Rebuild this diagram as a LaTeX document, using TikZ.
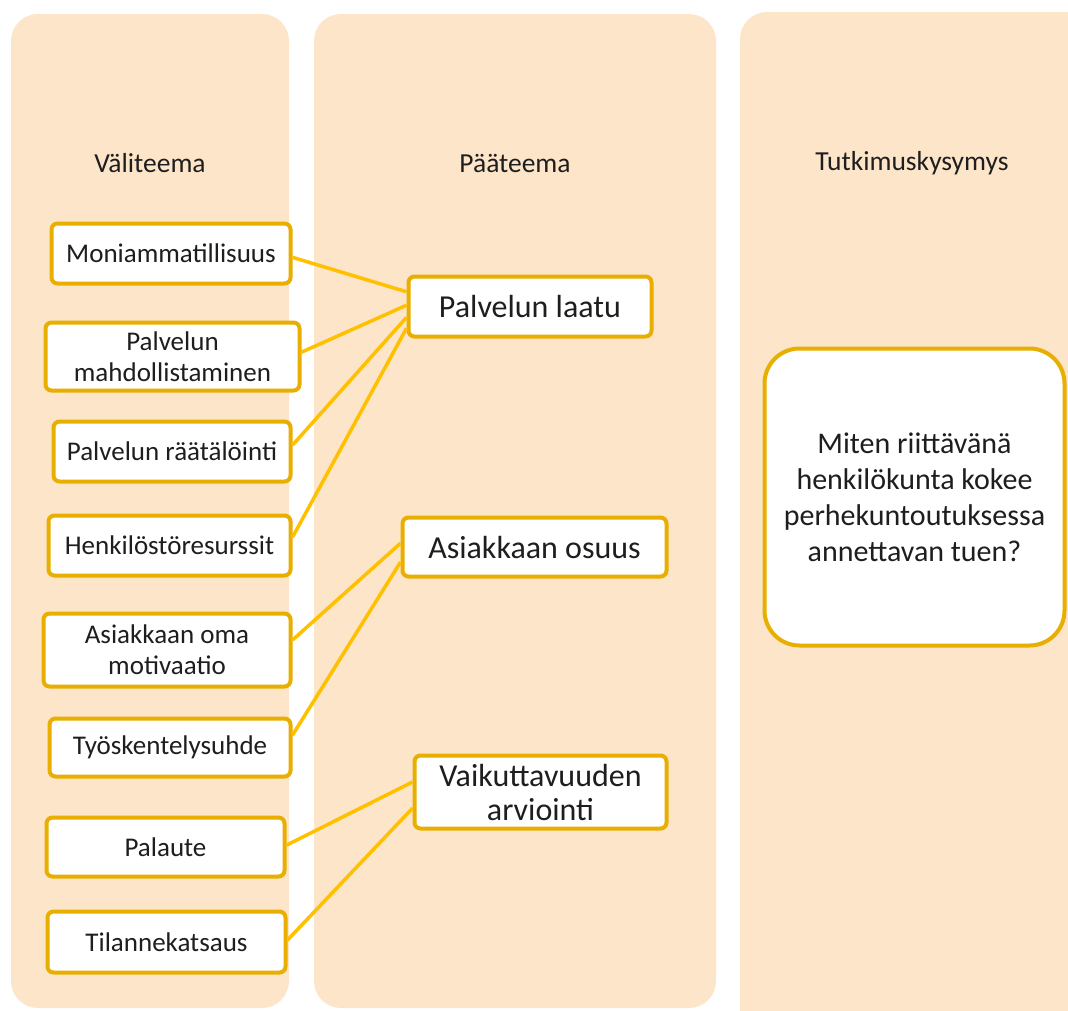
\documentclass[tikz,border=0pt]{standalone}
\usepackage{fontspec}
\setmainfont{Carlito}
\usetikzlibrary{calc}
\definecolor{panel}{RGB}{253,229,201}
\definecolor{boxline}{RGB}{232,174,0}
\definecolor{conn}{RGB}{255,192,0}
\definecolor{txt}{RGB}{30,30,30}
\tikzset{
  panelbox/.style={fill=panel, rounded corners=27pt},
  subbox/.style={draw=boxline, line width=4pt, fill=white, rounded corners=6pt, align=center,
    text=txt, inner sep=0pt, font=\fontsize{27}{31}\selectfont},
  mainbox/.style={subbox, font=\fontsize{32}{34}\selectfont},
  qbox/.style={draw=boxline, line width=4pt, fill=white, rounded corners=35pt, align=center,
    text=txt, inner sep=0pt, font=\fontsize{30}{36}\selectfont},
  coltitle/.style={text=txt, font=\fontsize{27.5}{29}\selectfont, inner sep=0pt},
  link/.style={draw=conn, line width=3.5pt}
}
\begin{document}
\begin{tikzpicture}[x=1pt, y=-1pt]
\clip (0,0) rectangle (1068,1010);
\fill[white] (0,0) rectangle (1068,1010);
% panels
\fill[panelbox] (11,14) rectangle (289,1008);
\fill[panelbox] (314,14) rectangle (716,1008);
\fill[panelbox] (740,12) rectangle (1120,1060);
% titles
\node[coltitle] (t1) at (150,163) {Väliteema};
\node[coltitle] (t2) at (515,163) {Pääteema};
\node[coltitle] (t3) at (912,163) {Tutkimuskysymys};
% left boxes
\node[subbox, minimum width=239pt, minimum height=60pt] (moni) at (171,253.5) {Moniammatillisuus};
\node[subbox, minimum width=254pt, minimum height=68pt] (mahd) at (172.5,356.5) {Palvelun\\mahdollistaminen};
\node[subbox, minimum width=237pt, minimum height=60pt] (raat) at (172,451.5) {Palvelun räätälöinti};
\node[subbox, minimum width=242pt, minimum height=60pt] (henk) at (169.5,545.5) {Henkilöstöresurssit};
\node[subbox, minimum width=247pt, minimum height=73pt] (moti) at (167,650) {Asiakkaan oma\\motivaatio};
\node[subbox, minimum width=241pt, minimum height=58pt] (tyo) at (170,747.5) {Työskentelysuhde};
\node[subbox, minimum width=238pt, minimum height=59pt] (pal) at (165.5,847) {Palaute};
\node[subbox, minimum width=238pt, minimum height=61pt] (til) at (166.5,942) {Tilannekatsaus};
% main boxes
\node[mainbox, minimum width=243pt, minimum height=60pt] (laatu) at (530,306.5) {Palvelun laatu};
\node[mainbox, minimum width=264pt, minimum height=59pt] (osuus) at (534.5,547) {Asiakkaan osuus};
\node[mainbox, minimum width=252pt, minimum height=73pt] (vaik) at (540.5,792) {Vaikuttavuuden\\arviointi};
% question
\node[qbox, minimum width=300pt, minimum height=297pt] (q) at (914.5,497) {Miten riittävänä\\henkilökunta kokee\\perhekuntoutuksessa\\annettavan tuen?};
% connectors
\draw[link] ($(moni.north east)!0.56!(moni.south east)$) -- ($(laatu.north west)!0.27!(laatu.south west)$);
\draw[link] ($(mahd.north east)!0.44!(mahd.south east)$) -- ($(laatu.north west)!0.48!(laatu.south west)$);
\draw[link] ($(raat.north east)!0.40!(raat.south east)$) -- ($(laatu.north west)!0.67!(laatu.south west)$);
\draw[link] ($(henk.north east)!0.37!(henk.south east)$) -- ($(laatu.north west)!0.84!(laatu.south west)$);
\draw[link] ($(moti.north east)!0.37!(moti.south east)$) -- ($(osuus.north west)!0.44!(osuus.south west)$);
\draw[link] ($(tyo.north east)!0.30!(tyo.south east)$) -- ($(osuus.north west)!0.74!(osuus.south west)$);
\draw[link] ($(pal.north east)!0.47!(pal.south east)$) -- ($(vaik.north west)!0.37!(vaik.south west)$);
\draw[link] ($(til.north east)!0.47!(til.south east)$) -- ($(vaik.north west)!0.71!(vaik.south west)$);
\end{tikzpicture}
\end{document}
